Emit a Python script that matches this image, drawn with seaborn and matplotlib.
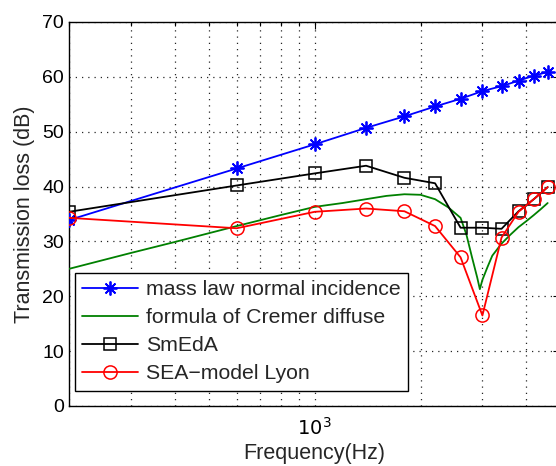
import matplotlib
matplotlib.use("Agg")
import matplotlib.pyplot as plt
import seaborn as sns
import numpy as np
import pandas as pd
from matplotlib.ticker import NullFormatter, FixedLocator, LogLocator

# Band frequencies (Hz)
freq_bands = [200, 600, 1000, 1400, 1800, 2200, 2600, 3000, 3400, 3800, 4200, 4600]
mass_law = [33.9, 43.3, 47.7, 50.7, 52.8, 54.6, 56.0, 57.4, 58.3, 59.3, 60.2, 60.9]
smeda = [35.4, 40.2, 42.4, 43.8, 41.6, 40.6, 32.5, 32.5, 32.3, 35.5, 37.7, 39.9]
sea_lyon = [34.3, 32.4, 35.4, 36.0, 35.5, 32.8, 27.1, 16.5, 30.7, 35.4, 37.7, 39.9]

# Cremer diffuse formula curve
cremer_freq = [200, 300, 400, 500, 600, 800, 1000, 1200, 1400, 1600, 1800, 2000,
               2200, 2400, 2600, 2700, 2800, 2900, 2950, 3000, 3100, 3200, 3400,
               3600, 3800, 4000, 4200, 4400, 4600]
cremer_tl = [25.0, 27.9, 29.9, 31.5, 32.8, 34.8, 36.3, 37.0, 37.7, 38.3, 38.6, 38.5,
             37.7, 36.2, 34.3, 31.3, 27.2, 23.4, 21.3, 23.0, 25.3, 27.4, 29.6,
             31.2, 32.6, 33.7, 34.8, 35.9, 37.0]

labels = ["mass law normal incidence", "formula of Cremer diffuse", "SmEdA", "SEA\u2212model Lyon"]

sns.set_style("white")
plt.rcParams["font.family"] = ["Liberation Sans", "DejaVu Sans"]
plt.rcParams["axes.unicode_minus"] = True

fig = plt.figure(figsize=(5.56, 4.66), dpi=100)
ax = fig.add_axes([69/556, 1 - 406/466, (560.4 - 69)/556, (406 - 22)/466])

lw = 1.3
sns.lineplot(x=freq_bands, y=mass_law, ax=ax, color="#0000ff", lw=lw,
             marker=(8, 2, 0), markersize=10, markeredgewidth=1.3,
             markeredgecolor="#0000ff", label=labels[0], zorder=5)
sns.lineplot(x=cremer_freq, y=cremer_tl, ax=ax, color="#008000", lw=lw,
             label=labels[1], zorder=4)
sns.lineplot(x=freq_bands, y=smeda, ax=ax, color="black", lw=lw,
             marker="s", markersize=8, markerfacecolor="none",
             markeredgecolor="black", markeredgewidth=1.1, label=labels[2], zorder=5)
sns.lineplot(x=freq_bands, y=sea_lyon, ax=ax, color="#ff0000", lw=lw,
             marker="o", markersize=9.5, markerfacecolor="none",
             markeredgecolor="#ff0000", markeredgewidth=1.1, label=labels[3], zorder=6)

ax.set_xscale("log")
ax.set_xlim(200, 5000)
ax.set_ylim(0, 70)
ax.set_yticks(np.arange(0, 71, 10))
ax.xaxis.set_major_locator(FixedLocator([1000]))
ax.xaxis.set_minor_locator(LogLocator(base=10, subs=np.arange(2, 10), numticks=20))
ax.xaxis.set_minor_formatter(NullFormatter())
ax.set_xticklabels([r"$10^3$"])

for s in ax.spines.values():
    s.set_color("black")
    s.set_linewidth(1.0)
ax.tick_params(which="both", direction="in", top=True, right=True, colors="black",
               labelsize=14, width=0.8)
ax.tick_params(which="major", length=5)
ax.tick_params(which="minor", length=3)
ax.tick_params(axis="x", which="major", pad=8)

ax.set_xlabel("Frequency(Hz)", fontsize=15.5, labelpad=3)
ax.set_ylabel("Transmission loss (dB)", fontsize=15.5, labelpad=5)

grid_kw = dict(linestyle=(0, (1, 4)), color="black", linewidth=0.9, alpha=0.85)
ax.xaxis.grid(True, which="major", **grid_kw)
ax.xaxis.grid(True, which="minor", **grid_kw)
ax.yaxis.grid(True, which="major", **grid_kw)
ax.set_axisbelow(True)

leg = ax.legend(loc="lower left", bbox_to_anchor=(0.012, 0.04), fontsize=15.3,
                frameon=True, fancybox=False, handlelength=2.6,
                borderpad=0.35, labelspacing=0.42, handletextpad=0.4,
                borderaxespad=0.0)
leg.get_frame().set_edgecolor("black")
leg.get_frame().set_linewidth(1.0)
leg.get_frame().set_alpha(1.0)

fig.savefig("out.png", dpi=100)
